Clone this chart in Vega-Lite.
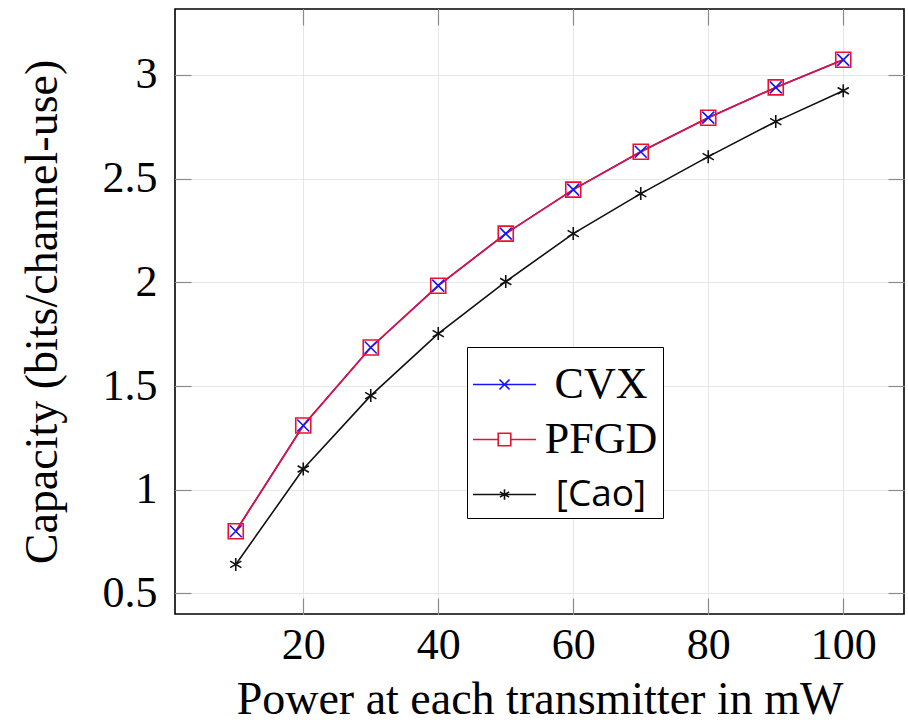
{
  "$schema": "https://vega.github.io/schema/vega-lite/v6.json",
  "width": 729,
  "height": 605,
  "autosize": {"type": "none"},
  "padding": {"left": 175, "top": 9, "right": 4, "bottom": 110},
  "background": "white",
  "config": {
    "view": {"stroke": "black", "strokeWidth": 1.6},
    "axis": {
      "labelFont": "Liberation Serif",
      "titleFont": "Liberation Serif",
      "labelFontSize": 44,
      "titleFontSize": 46,
      "titleFontWeight": "normal",
      "labelColor": "black",
      "titleColor": "black",
      "domain": false,
      "tickColor": "#8a8a8a",
      "tickWidth": 1.2,
      "tickSize": -16,
      "gridColor": "#e6e6e6",
      "gridWidth": 1
    }
  },
  "data": {
    "values": [
      {"p": 10, "cap": 0.80, "series": "CVX"},
      {"p": 20, "cap": 1.31, "series": "CVX"},
      {"p": 30, "cap": 1.686, "series": "CVX"},
      {"p": 40, "cap": 1.984, "series": "CVX"},
      {"p": 50, "cap": 2.235, "series": "CVX"},
      {"p": 60, "cap": 2.447, "series": "CVX"},
      {"p": 70, "cap": 2.63, "series": "CVX"},
      {"p": 80, "cap": 2.794, "series": "CVX"},
      {"p": 90, "cap": 2.94, "series": "CVX"},
      {"p": 100, "cap": 3.073, "series": "CVX"},
      {"p": 10, "cap": 0.80, "series": "PFGD"},
      {"p": 20, "cap": 1.31, "series": "PFGD"},
      {"p": 30, "cap": 1.686, "series": "PFGD"},
      {"p": 40, "cap": 1.984, "series": "PFGD"},
      {"p": 50, "cap": 2.235, "series": "PFGD"},
      {"p": 60, "cap": 2.447, "series": "PFGD"},
      {"p": 70, "cap": 2.63, "series": "PFGD"},
      {"p": 80, "cap": 2.794, "series": "PFGD"},
      {"p": 90, "cap": 2.94, "series": "PFGD"},
      {"p": 100, "cap": 3.073, "series": "PFGD"},
      {"p": 10, "cap": 0.64, "series": "[Cao]"},
      {"p": 20, "cap": 1.10, "series": "[Cao]"},
      {"p": 30, "cap": 1.454, "series": "[Cao]"},
      {"p": 40, "cap": 1.753, "series": "[Cao]"},
      {"p": 50, "cap": 2.004, "series": "[Cao]"},
      {"p": 60, "cap": 2.235, "series": "[Cao]"},
      {"p": 70, "cap": 2.428, "series": "[Cao]"},
      {"p": 80, "cap": 2.606, "series": "[Cao]"},
      {"p": 90, "cap": 2.775, "series": "[Cao]"},
      {"p": 100, "cap": 2.924, "series": "[Cao]"}
    ]
  },
  "resolve": {"axis": {"x": "independent", "y": "independent"}},
  "layer": [
    {
      "mark": {"type": "line", "strokeWidth": 1.6},
      "encoding": {
        "x": {
          "field": "p", "type": "quantitative",
          "scale": {"domain": [1, 109], "nice": false, "zero": false},
          "axis": {"values": [20, 40, 60, 80, 100], "title": "Power at each transmitter in mW", "labelPadding": 25, "titlePadding": 10}
        },
        "y": {
          "field": "cap", "type": "quantitative",
          "scale": {"domain": [0.401, 3.318], "nice": false, "zero": false},
          "axis": {"values": [0.5, 1, 1.5, 2, 2.5, 3], "format": ".1~f", "title": "Capacity (bits/channel-use)", "labelPadding": 34, "titlePadding": 36}
        },
        "stroke": {
          "field": "series", "type": "nominal",
          "scale": {"domain": ["CVX", "PFGD", "[Cao]"], "range": ["#1414ff", "#ec1030", "#111111"]}
        }
      }
    },
    {
      "transform": [{"filter": "datum.series === 'PFGD'"}],
      "mark": {"type": "point", "shape": "square", "size": 225, "filled": false, "stroke": "#ec1030", "strokeWidth": 1.6, "opacity": 1},
      "encoding": {
        "x": {"field": "p", "type": "quantitative", "axis": null},
        "y": {"field": "cap", "type": "quantitative", "axis": null}
      }
    },
    {
      "transform": [{"filter": "datum.series === 'CVX'"}],
      "mark": {"type": "point", "shape": "M-1,-1L1,1M-1,1L1,-1", "size": 144, "filled": false, "stroke": "#1414ff", "strokeWidth": 1.6, "opacity": 1},
      "encoding": {
        "x": {"field": "p", "type": "quantitative", "axis": null},
        "y": {"field": "cap", "type": "quantitative", "axis": null}
      }
    },
    {
      "transform": [{"filter": "datum.series === '[Cao]'"}],
      "mark": {"type": "point", "shape": "M0,-1V1M-0.866,-0.5L0.866,0.5M-0.866,0.5L0.866,-0.5", "size": 169, "filled": false, "stroke": "#111111", "strokeWidth": 1.6, "opacity": 1},
      "encoding": {
        "x": {"field": "p", "type": "quantitative", "axis": null},
        "y": {"field": "cap", "type": "quantitative", "axis": null}
      }
    },
    {
      "transform": [{"filter": "false"}],
      "mark": {"type": "point", "filled": false, "strokeWidth": 1.6, "opacity": 1},
      "encoding": {
        "x": {"field": "p", "type": "quantitative", "axis": {"orient": "top", "values": [20, 40, 60, 80, 100], "labels": false, "grid": false, "title": null}},
        "y": {"field": "cap", "type": "quantitative", "axis": {"orient": "right", "values": [0.5, 1, 1.5, 2, 2.5, 3], "labels": false, "grid": false, "title": null}},
        "stroke": {
          "field": "series", "type": "nominal",
          "legend": {
            "orient": "none",
            "legendX": 292,
            "legendY": 338,
            "title": null,
            "strokeColor": "black",
            "fillColor": "white",
            "padding": 5,
            "labelFont": {"expr": "datum.value === '[Cao]' ? 'Open Sans' : 'Liberation Serif'"},
            "labelFontSize": {"expr": "datum.value === '[Cao]' ? 37 : 44"},
            "labelAlign": "center",
            "labelOffset": 64,
            "labelColor": "black",
            "labelLimit": 400,
            "symbolSize": 3969,
            "symbolStrokeWidth": 1.6,
            "rowPadding": 0,
            "gridAlign": "all"
          }
        },
        "shape": {
          "field": "series", "type": "nominal",
          "scale": {
            "domain": ["CVX", "PFGD", "[Cao]"],
            "range": [
              "M-1,0H1M-0.16,-0.16L0.16,0.16M-0.16,0.16L0.16,-0.16",
              "M-1,0H-0.2M0.2,0H1M-0.2,-0.2H0.2V0.2H-0.2Z",
              "M-1,0H1M0,-0.17V0.17M-0.147,-0.085L0.147,0.085M-0.147,0.085L0.147,-0.085"
            ]
          },
          "legend": {
            "orient": "none",
            "legendX": 292,
            "legendY": 338,
            "title": null
          }
        }
      }
    }
  ]
}
